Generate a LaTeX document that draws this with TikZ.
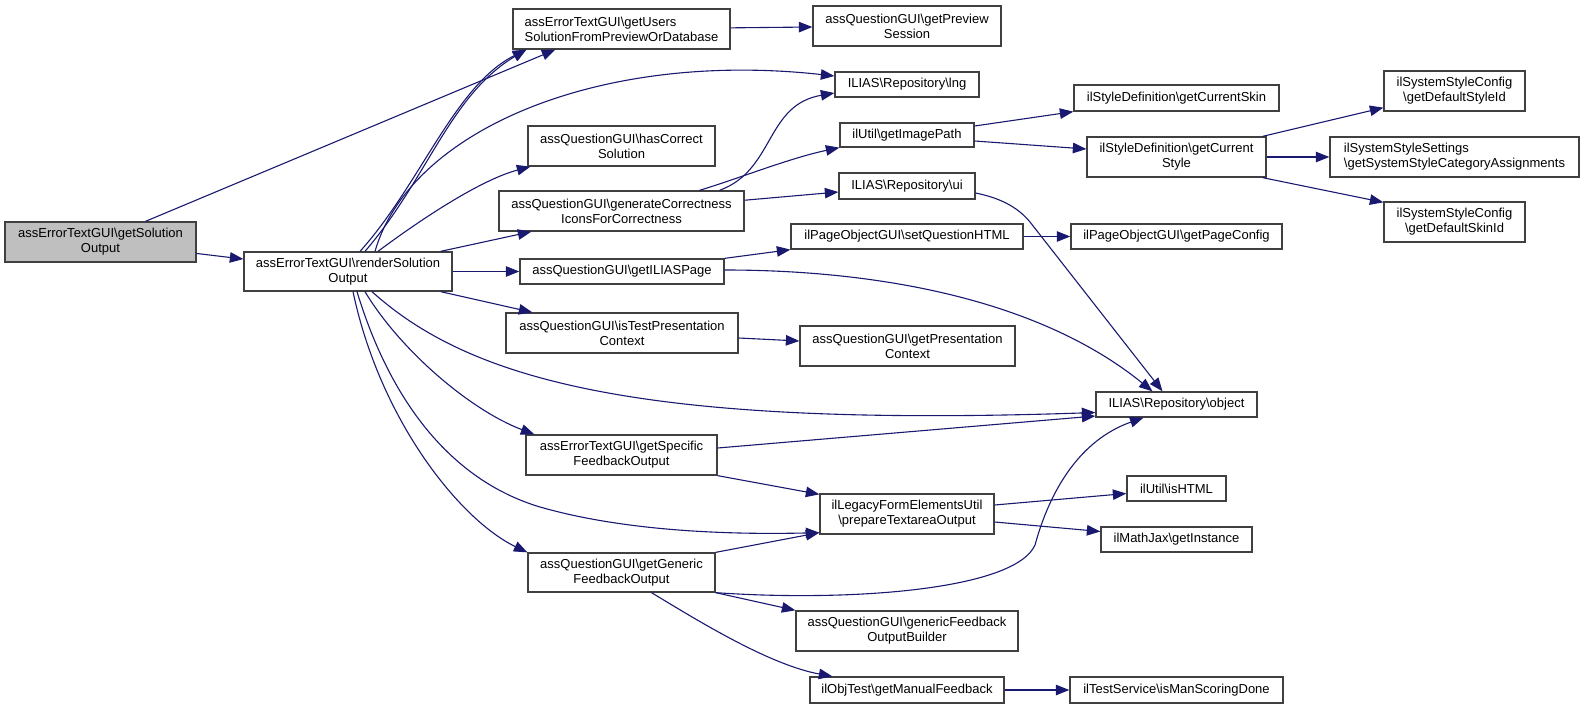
\documentclass[tikz,border=0pt]{standalone}
\usepackage{fontspec}
\setmainfont{Liberation Sans}
\usetikzlibrary{arrows.meta}
\definecolor{edgeblue}{RGB}{25,25,112}
\definecolor{boxline}{RGB}{64,64,64}
\definecolor{hlfill}{RGB}{191,191,191}
\newcommand{\bsl}{\textbackslash}
\newcommand{\placebox}[7][]{\node[box,#1,minimum width={#4-#2},minimum height={#5-#3}] (#6) at ({(#2+#4)/2},{(#3+#5)/2}) {#7};}
\begin{document}
\begin{tikzpicture}[x=1pt,y=-1pt,
  box/.style={draw=boxline,fill=white,line width=1.3pt,inner sep=0pt,align=center,
    font=\fontsize{13}{15}\selectfont},
  lbox/.style={align=left},
  e/.style={draw=edgeblue,line width=1.1pt,-{Triangle[length=13.5pt,width=10.5pt]}}]
\useasboundingbox (0,0) rectangle (1584,709);
\placebox[fill=hlfill]{5}{222}{196}{262}{A}{assErrorTextGUI\bsl getSolution\\Output}
\placebox{244}{252}{452}{291}{B}{assErrorTextGUI\bsl renderSolution\\Output}
\placebox[lbox]{513}{9}{730}{49}{C}{assErrorTextGUI\bsl getUsers\\SolutionFromPreviewOrDatabase}
\placebox{813}{6}{1001}{46}{D}{assQuestionGUI\bsl getPreview\\Session}
\placebox{835}{72}{979}{97}{E}{ILIAS\bsl Repository\bsl lng}
\placebox{528}{126}{715}{166}{F}{assQuestionGUI\bsl hasCorrect\\Solution}
\placebox{499}{191}{744}{231}{G}{assQuestionGUI\bsl generateCorrectness\\IconsForCorrectness}
\placebox{840}{123}{974}{147}{H}{ilUtil\bsl getImagePath}
\placebox{839}{173}{975}{199}{I}{ILIAS\bsl Repository\bsl ui}
\placebox{791}{224}{1023}{249}{J}{ilPageObjectGUI\bsl setQuestionHTML}
\placebox{520}{259}{724}{284}{K}{assQuestionGUI\bsl getILIASPage}
\placebox{506}{313}{738}{353}{L}{assQuestionGUI\bsl isTestPresentation\\Context}
\placebox{800}{326}{1015}{366}{M}{assQuestionGUI\bsl getPresentation\\Context}
\placebox{1074}{85}{1279}{111}{N}{ilStyleDefinition\bsl getCurrentSkin}
\placebox{1087}{137}{1266}{177}{O}{ilStyleDefinition\bsl getCurrent\\Style}
\placebox{1384}{71}{1525}{111}{P}{ilSystemStyleConfig\\\bsl getDefaultStyleId}
\placebox[lbox]{1330}{137}{1579}{177}{Q}{ilSystemStyleSettings\\\bsl getSystemStyleCategoryAssignments}
\placebox{1384}{202}{1525}{242}{R}{ilSystemStyleConfig\\\bsl getDefaultSkinId}
\placebox{1071}{224}{1282}{249}{S}{ilPageObjectGUI\bsl getPageConfig}
\placebox{526}{435}{717}{475}{T}{assErrorTextGUI\bsl getSpecific\\FeedbackOutput}
\placebox{820}{494}{994}{534}{U}{ilLegacyFormElementsUtil\\\bsl prepareTextareaOutput}
\placebox{528}{553}{715}{592}{V}{assQuestionGUI\bsl getGeneric\\FeedbackOutput}
\placebox{796}{611}{1018}{651}{W}{assQuestionGUI\bsl genericFeedback\\OutputBuilder}
\placebox{810}{677}{1004}{703}{X}{ilObjTest\bsl getManualFeedback}
\placebox{1096}{392}{1257}{417}{Y}{ILIAS\bsl Repository\bsl object}
\placebox{1127}{476}{1226}{501}{Z}{ilUtil\bsl isHTML}
\placebox{1101}{527}{1252}{552}{AA}{ilMathJax\bsl getInstance}
\placebox{1070}{677}{1283}{703}{AB}{ilTestService\bsl isManScoringDone}
% edges
\draw[e] (A) -- (B);
\draw[e] ([xshift=45pt]A.north) -- ([xshift=43pt]C.south west);
\draw[e] ([xshift=12pt]B.north) .. controls (420,185) and (455,85) .. ([xshift=14pt]C.south west);
\draw[e] ([xshift=17pt]B.north) .. controls (428,178) and (450,95) .. ([xshift=14pt]C.south west);
\draw[e] ([xshift=27pt]B.north) .. controls (410,130) and (600,50) .. ([yshift=8.5pt]E.west);
\draw[e] ([xshift=30pt]B.north) .. controls (420,220) and (480,180) .. ([xshift=3pt]F.south west);
\draw[e] ([xshift=-12pt]B.north east) -- ([xshift=33pt]G.south west);
\draw[e] (B) -- (K);
\draw[e] ([xshift=-12pt]B.south east) -- ([xshift=27pt]L.north west);
\draw[e] ([xshift=24pt]B.south) .. controls (470,380) and (640,428) .. ([yshift=-8pt]Y.west);
\draw[e] ([xshift=17pt]B.south) .. controls (400,350) and (470,410) .. ([xshift=9pt]T.north west);
\draw[e] ([xshift=9pt]B.south) .. controls (390,400) and (450,480) .. (540,507) .. controls (620,530) and (720,535) .. ([yshift=2pt]U.south west);
\draw[e] ([xshift=5pt]B.south) .. controls (380,420) and (460,520) .. (V.north west);
\draw[e] (C) -- (D);
\draw[e] ([xshift=98pt]G.north) .. controls (775,170) and (765,105) .. ([yshift=-8.5pt]E.west);
\draw[e] ([xshift=78pt]G.north) .. controls (740,178) and (790,158) .. (H.south west);
\draw[e] (G) -- (I);
\draw[e] ([yshift=-7pt]I.east) .. controls (1005,199) and (1020,210) .. (1030,222) -- ([xshift=-14pt]Y.north);
\draw[e] ([yshift=9pt]H.east) -- (N.south west);
\draw[e] ([yshift=-6pt]H.east) -- ([yshift=8pt]O.west);
\draw[e] ([xshift=-4pt]O.north east) -- ([yshift=4pt]P.south west);
\draw[e] (O) -- (Q);
\draw[e] ([xshift=-4pt]O.south east) -- ([yshift=-1pt]R.north west);
\draw[e] (K.north east) -- (J.south west);
\draw[e] ([yshift=1.5pt]K.east) .. controls (880,270) and (1040,300) .. ([xshift=-24pt]Y.north);
\draw[e] (J) -- (S);
\draw[e] ([yshift=-5pt]L.east) -- ([yshift=5pt]M.west);
\draw[e] ([yshift=7pt]T.east) -- ([yshift=-11.5pt]Y.west);
\draw[e] (T.south east) -- ([yshift=-1pt]U.north west);
\draw[e] (V.north east) -- ([yshift=2pt]U.south west);
\draw[e] (V.south east) .. controls (850,602) and (1015,590) .. (1035,545) .. controls (1050,490) and (1080,440) .. ([xshift=-33pt]Y.south);
\draw[e] (V.south east) -- (W.north west);
\draw[e] ([xshift=30pt]V.south) .. controls (700,622) and (770,665) .. ([xshift=23pt]X.north west);
\draw[e] (X) -- (AB);
\draw[e] ([yshift=9pt]U.east) -- ([yshift=-5pt]Z.west);
\draw[e] ([yshift=-8pt]U.east) -- ([yshift=8pt]AA.west);
\end{tikzpicture}
\end{document}
